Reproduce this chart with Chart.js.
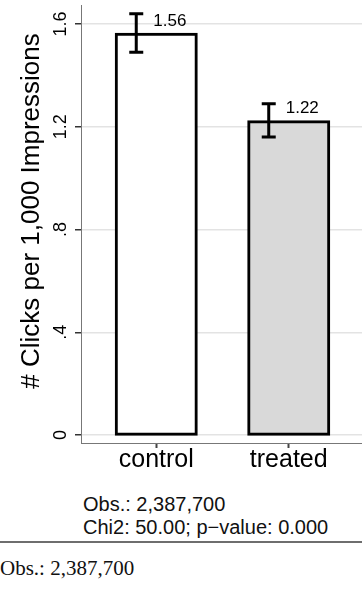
<!DOCTYPE html>
<html>
<head>
<meta charset="utf-8">
<script src="https://cdn.jsdelivr.net/npm/chart.js@4.4.0/dist/chart.umd.min.js"></script>
<style>
  body { margin: 0; background: #fff; width: 362px; height: 590px; overflow: hidden; position: relative; font-family: "Liberation Sans", Arial, sans-serif; }
  #wrap { position: absolute; left: 0; top: 0; width: 362px; height: 480px; }
  .nota { position: absolute; left: 83px; top: 493px; font-size: 20px; line-height: 23px; color: #111; white-space: nowrap; }
  .regla { position: absolute; left: 0; top: 541px; width: 362px; height: 2px; background: #6e6e6e; }
  .pie { position: absolute; left: 0; top: 556px; font-family: "Liberation Serif", "Times New Roman", serif; font-size: 21px; line-height: 24px; color: #111; white-space: nowrap; }
</style>
</head>
<body>
<div id="wrap"><canvas id="grafico"></canvas></div>
<div class="nota">Obs.: 2,387,700<br>Chi2: 50.00; p&minus;value: 0.000</div>
<div class="regla"></div>
<div class="pie">Obs.: 2,387,700</div>
<script>
const grupos = ['control', 'treated'];
const clicks = [1.56, 1.22];
const ciBajo = [1.49, 1.16];
const ciAlto = [1.64, 1.29];
const ticksY = [0, 0.4, 0.8, 1.2, 1.6];
const etiquetasY = ['0', '.4', '.8', '1.2', '1.6'];
const tituloY = '# Clicks per 1,000 Impressions';

const FUENTE = '"Liberation Sans", Arial, sans-serif';

// barras de error, valores, etiquetas del eje y y titulo
const extras = {
  id: 'extras',
  afterDatasetsDraw(chart) {
    const c = chart.ctx;
    const y = chart.scales.y;
    const meta = chart.getDatasetMeta(0);
    c.save();
    c.strokeStyle = '#000';
    c.fillStyle = '#000';
    c.lineWidth = 3;
    meta.data.forEach((bar, i) => {
      const xe = bar.x - bar.width / 4;
      const yAlto = y.getPixelForValue(ciAlto[i]);
      const yBajo = y.getPixelForValue(ciBajo[i]);
      c.beginPath();
      c.moveTo(xe, yAlto); c.lineTo(xe, yBajo);
      c.moveTo(xe - 7, yAlto); c.lineTo(xe + 7, yAlto);
      c.moveTo(xe - 7, yBajo); c.lineTo(xe + 7, yBajo);
      c.stroke();
      c.font = '17px ' + FUENTE;
      c.textAlign = 'left';
      c.textBaseline = 'middle';
      c.fillText(clicks[i].toFixed(2), bar.x - 3, bar.y - 13);
    });

    c.font = '18px ' + FUENTE;
    c.textAlign = 'center';
    c.textBaseline = 'middle';
    ticksY.forEach((v, i) => {
      c.save();
      c.translate(61, y.getPixelForValue(v));
      c.rotate(-Math.PI / 2);
      c.fillText(etiquetasY[i], 0, 0);
      c.restore();
    });

    c.save();
    c.translate(32, 211);
    c.rotate(-Math.PI / 2);
    c.font = '26px ' + FUENTE;
    c.fillText(tituloY, 0, 0);
    c.restore();
    c.restore();
  }
};

const ctx = document.getElementById('grafico').getContext('2d');
new Chart(ctx, {
  type: 'bar',
  data: {
    datasets: [{
      data: grupos.map((g, i) => ({ x: i, y: clicks[i] })),
      backgroundColor: ['#ffffff', '#d9d9d9'],
      borderColor: '#000',
      borderWidth: 3,
      borderSkipped: false,
      inflateAmount: 1.5,
      barThickness: 80
    }]
  },
  options: {
    responsive: true,
    maintainAspectRatio: false,
    animation: false,
    layout: { padding: { top: 5, left: 0, right: 0, bottom: 0 } },
    plugins: { legend: { display: false }, tooltip: { enabled: false } },
    scales: {
      x: {
        type: 'linear',
        offset: false,
        min: -0.568,
        max: 1.553,
        afterFit: s => { s.height = 37; },
        afterBuildTicks: s => { s.ticks = grupos.map((g, i) => ({ value: i })); },
        grid: { offset: false, drawOnChartArea: false, drawTicks: true, tickLength: 5, tickColor: '#444', tickWidth: 2 },
        border: { color: '#777', width: 1 },
        ticks: {
          callback: v => grupos[v],
          font: { size: 25, family: FUENTE, lineHeight: 1 },
          color: '#000',
          padding: 0,
          maxRotation: 0
        }
      },
      y: {
        min: -0.031,
        max: 1.674,
        afterFit: s => { s.width = 81; },
        afterBuildTicks: s => { s.ticks = ticksY.map(v => ({ value: v })); },
        grid: { color: '#e3e3e3', lineWidth: 1.5, tickColor: '#333', tickLength: 6, tickWidth: 1.5 },
        border: { color: '#777', width: 1 },
        ticks: { display: false }
      }
    }
  },
  plugins: [extras]
});
</script>
</body>
</html>
